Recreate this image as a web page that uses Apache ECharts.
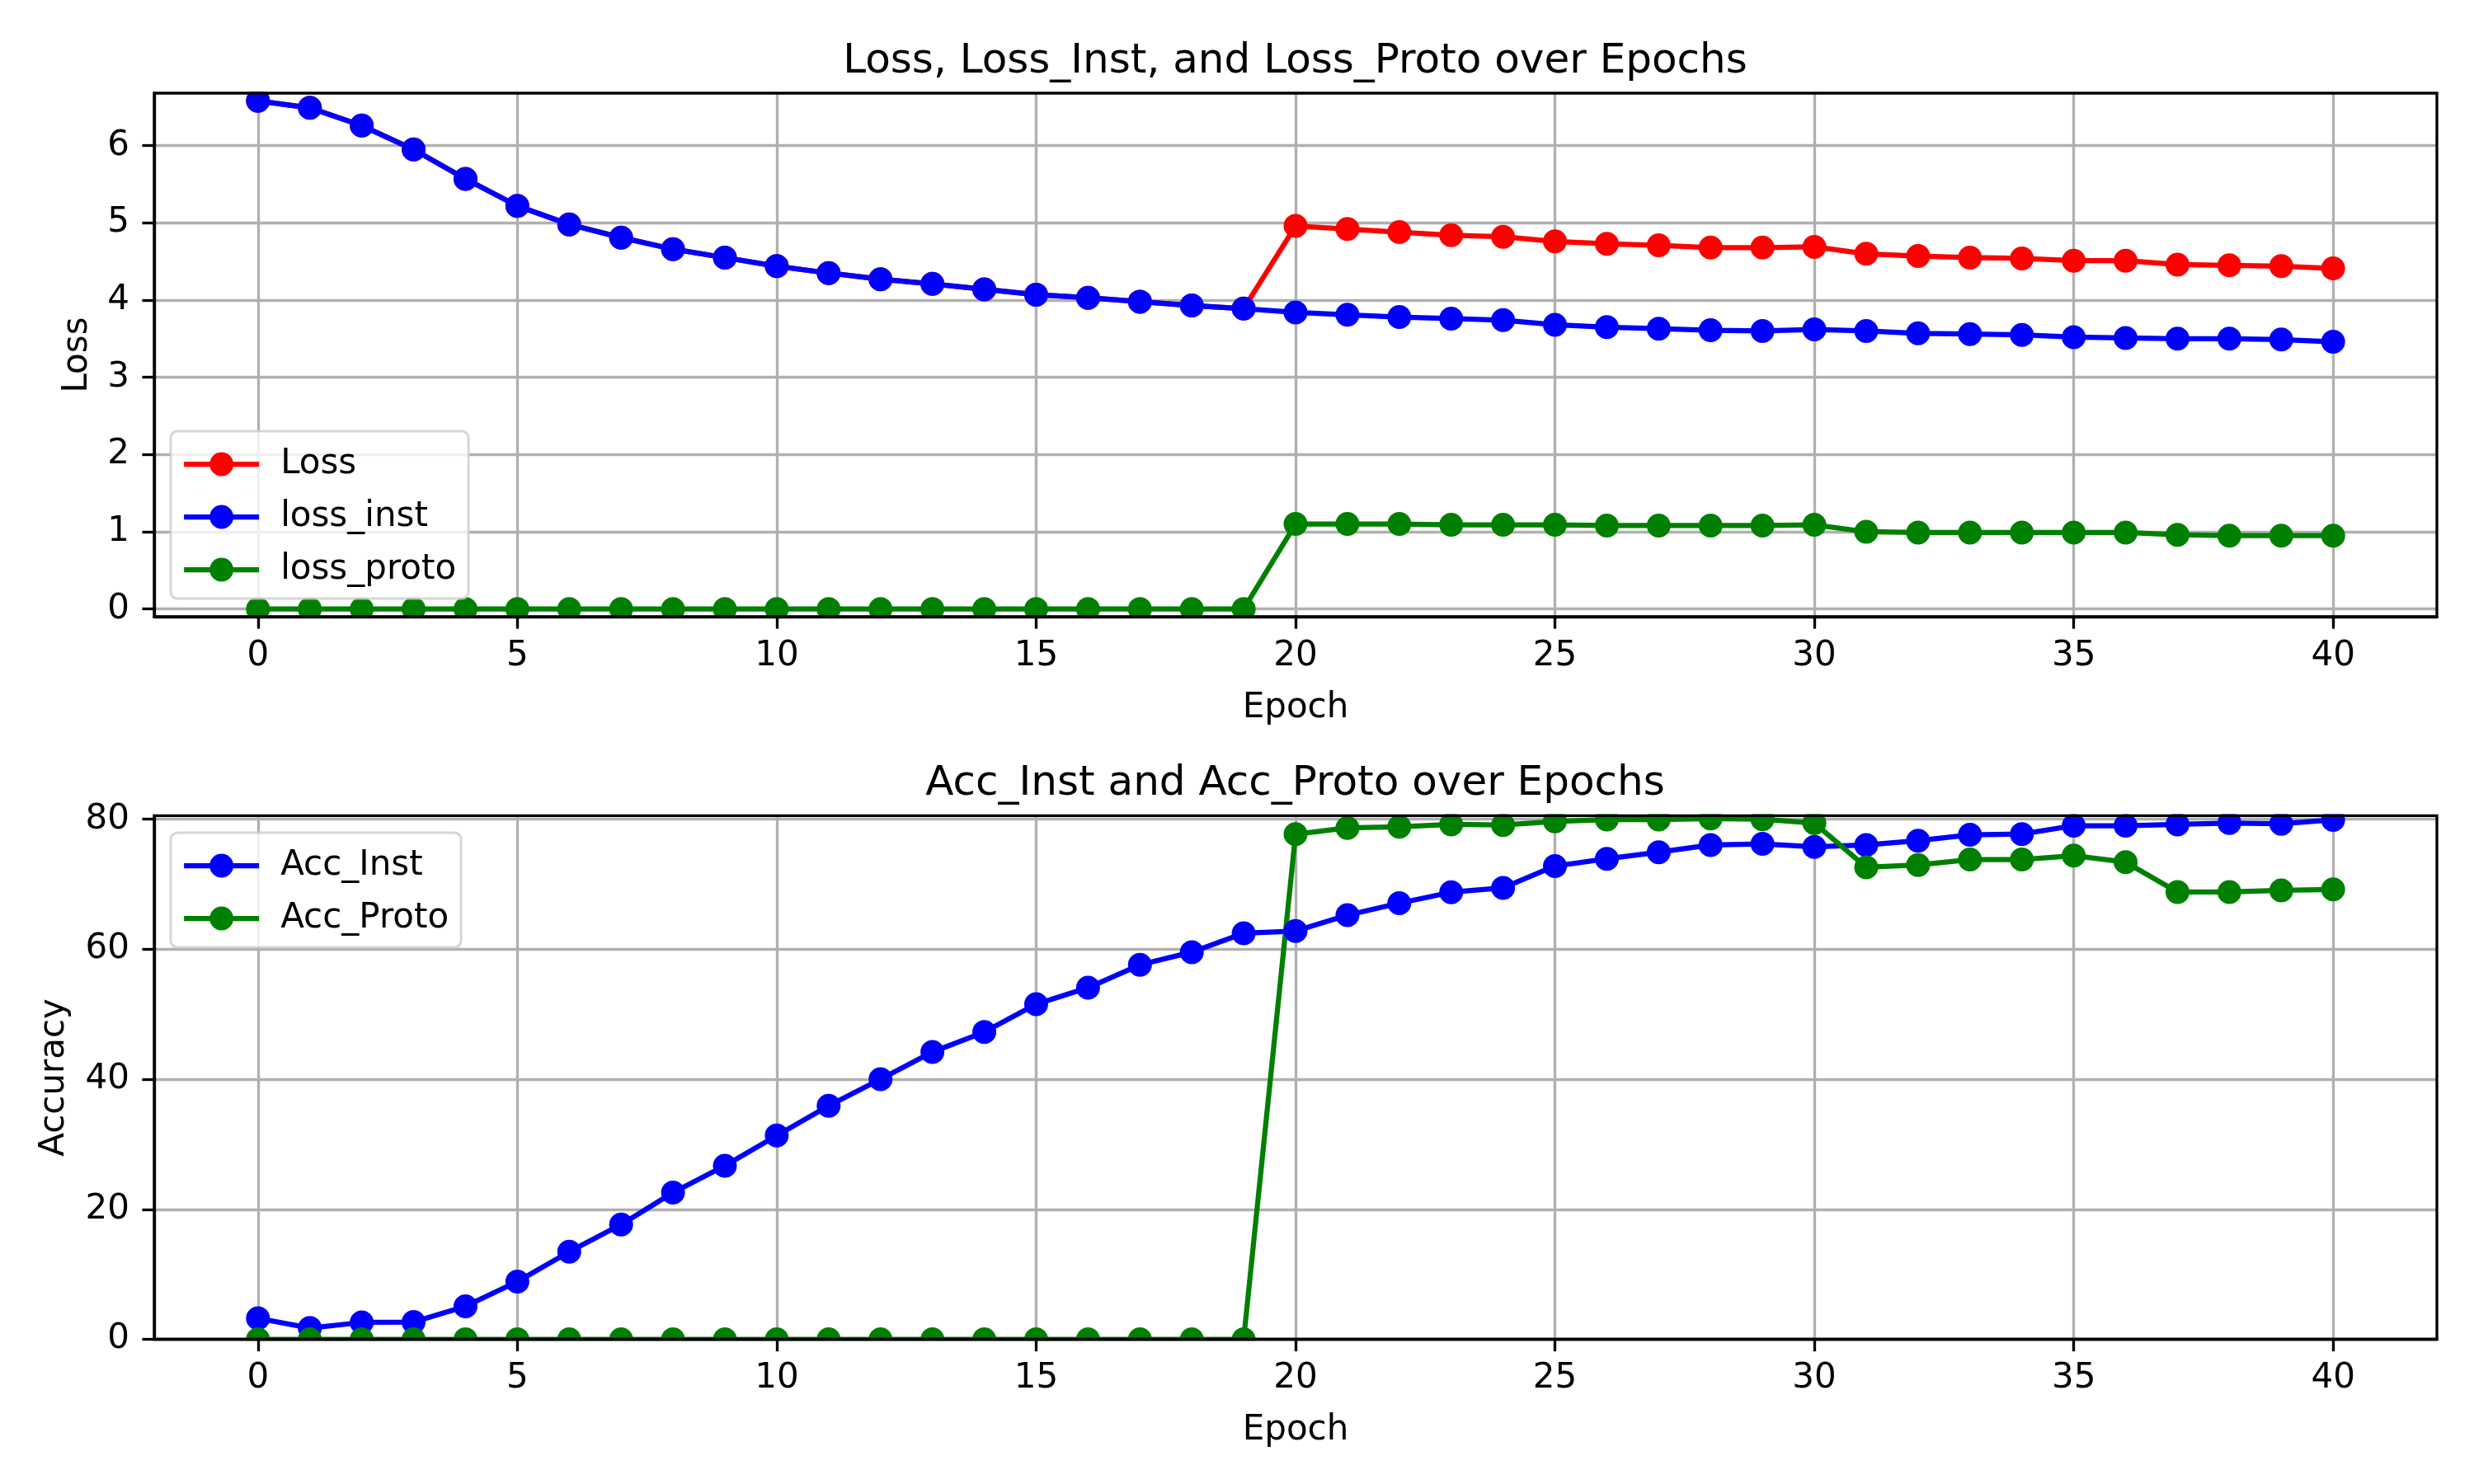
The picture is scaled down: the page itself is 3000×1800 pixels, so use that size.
<!DOCTYPE html>
<html>
<head>
<meta charset="utf-8">
<script src="https://cdn.jsdelivr.net/npm/echarts@6/dist/echarts.min.js"></script>
<style>html,body{margin:0;padding:0;background:#fff}#c{width:3000px;height:1800px}</style>
</head>
<body>
<div id="c"></div>
<script>
// ---- data ----
const epochs = [0,1,2,3,4,5,6,7,8,9,10,11,12,13,14,15,16,17,18,19,20,21,22,23,24,25,26,27,28,29,30,31,32,33,34,35,36,37,38,39,40];
const loss = [6.58,6.49,6.26,5.95,5.57,5.22,4.98,4.81,4.66,4.55,4.44,4.35,4.27,4.21,4.14,4.07,4.03,3.98,3.93,3.89,
  4.96,4.92,4.88,4.84,4.82,4.76,4.73,4.71,4.68,4.68,4.69,4.60,4.57,4.55,4.54,4.51,4.51,4.46,4.45,4.44,4.41];
const lossInst = [6.58,6.49,6.26,5.95,5.57,5.22,4.98,4.81,4.66,4.55,4.44,4.35,4.27,4.21,4.14,4.07,4.03,3.98,3.93,3.89,
  3.84,3.81,3.78,3.76,3.74,3.68,3.65,3.63,3.61,3.60,3.62,3.60,3.57,3.56,3.55,3.52,3.51,3.50,3.50,3.49,3.46];
const lossProto = [0,0,0,0,0,0,0,0,0,0,0,0,0,0,0,0,0,0,0,0,
  1.10,1.10,1.10,1.09,1.09,1.09,1.08,1.08,1.08,1.08,1.09,1.00,0.99,0.99,0.99,0.99,0.99,0.96,0.95,0.95,0.95];
const accInst = [3.24,1.73,2.60,2.65,5.08,8.88,13.46,17.65,22.57,26.70,31.34,35.92,40.00,44.19,47.26,51.56,54.08,57.60,59.55,62.46,
  62.80,65.25,67.09,68.77,69.44,72.79,73.91,74.92,76.03,76.20,75.75,76.03,76.70,77.60,77.71,79.00,79.00,79.20,79.40,79.30,79.90];
const accProto = [0,0,0,0,0,0,0,0,0,0,0,0,0,0,0,0,0,0,0,0,
  77.70,78.66,78.83,79.20,79.10,79.66,79.94,79.94,80.10,80.00,79.40,72.60,72.96,73.80,73.80,74.40,73.40,68.80,68.80,69.05,69.20];
const xTicks = [0,5,10,15,20,25,30,35,40];
const lossTicks = [0,1,2,3,4,5,6];
const accTicks = [0,20,40,60,80];

const FONT = 'DejaVu Sans';
const LW = 3.33;
const chart = echarts.init(document.getElementById('c'));

function pairs(ys){ return epochs.map((e,i)=>[e, ys[i]]); }

const grids = [
  {left:187, right:45, top:113, height:635},
  {left:187, right:45, top:989.3, height:635.2}
];

function mainX(gi){
  return {type:'value', gridIndex:gi, min:-2, max:42, position:'bottom', z:20,
    axisLine:{show:true, onZero:false, lineStyle:{color:'#000', width:LW}},
    axisTick:{show:true, length:14.6, lineStyle:{color:'#000', width:LW}, customValues:xTicks},
    axisLabel:{show:true, customValues:xTicks, fontSize:42, color:'#000', fontFamily:FONT, margin:27},
    splitLine:{show:false},
    name:'Epoch', nameLocation:'middle', nameGap:90,
    nameTextStyle:{fontSize:42, color:'#000', fontFamily:FONT}};
}
function gridX(gi){
  return {type:'value', gridIndex:gi, min:-2, max:42, position:'bottom', z:0,
    axisLine:{show:false}, axisLabel:{show:false},
    axisTick:{show:false, customValues:xTicks},
    splitLine:{show:true, lineStyle:{color:'#b0b0b0', width:LW}}};
}
function mainY(gi, mn, mx, ticks, name, gap){
  return {type:'value', gridIndex:gi, min:mn, max:mx, position:'left', z:20,
    axisLine:{show:true, onZero:false, lineStyle:{color:'#000', width:LW}},
    axisTick:{show:true, length:14.6, lineStyle:{color:'#000', width:LW}, customValues:ticks},
    axisLabel:{show:true, customValues:ticks, fontSize:42, color:'#000', fontFamily:FONT, margin:30},
    splitLine:{show:false},
    name:name, nameLocation:'middle', nameGap:gap,
    nameTextStyle:{fontSize:42, color:'#000', fontFamily:FONT}};
}
function gridY(gi, mn, mx, ticks){
  return {type:'value', gridIndex:gi, min:mn, max:mx, position:'left', z:0,
    axisLine:{show:false}, axisLabel:{show:false},
    axisTick:{show:false, customValues:ticks},
    splitLine:{show:true, lineStyle:{color:'#b0b0b0', width:LW}}};
}

function lineSeries(name, color, xi, yi, ys){
  return {name:name, type:'line', xAxisIndex:xi, yAxisIndex:yi, data:pairs(ys),
    symbol:'circle', symbolSize:29, showSymbol:true, clip:false,
    lineStyle:{color:color, width:6.25}, itemStyle:{color:color},
    emphasis:{disabled:true}, animation:false};
}

const legendBase = {
  orient:'vertical', itemWidth:91, itemHeight:36, itemGap:22,
  backgroundColor:'rgba(255,255,255,0.8)', borderColor:'rgba(204,204,204,0.8)', borderWidth:3, borderRadius:8,
  padding:[19,15,14,13],
  lineStyle:{width:6.25},
  textStyle:{fontSize:42, color:'#000', fontFamily:FONT, padding:[0,0,0,21], lineHeight:42},
  selectedMode:false
};

const option = {
  animation:false,
  backgroundColor:'#fff',
  grid: grids.map(g=>Object.assign({show:true, z:20, borderColor:'#000', borderWidth:LW, backgroundColor:'transparent'}, g)),
  xAxis:[mainX(0), gridX(0), mainX(1), gridX(1)],
  yAxis:[mainY(0,-0.1,6.68,lossTicks,'Loss',72), gridY(0,-0.1,6.68,lossTicks),
         mainY(1,0,80.55,accTicks,'Accuracy',100), gridY(1,0,80.55,accTicks)],
  legend:[
    Object.assign({}, legendBase, {left:207, top:523, data:['Loss','loss_inst','loss_proto']}),
    Object.assign({}, legendBase, {left:207, top:1010, data:['Acc_Inst','Acc_Proto']})
  ],
  series:[
    lineSeries('Loss','#ff0000',0,0,loss),
    lineSeries('loss_inst','#0000ff',0,0,lossInst),
    lineSeries('loss_proto','#008000',0,0,lossProto),
    lineSeries('Acc_Inst','#0000ff',2,2,accInst),
    lineSeries('Acc_Proto','#008000',2,2,accProto)
  ],
  graphic:[
    {type:'rect', z:10, silent:true, shape:{x:0, y:97, width:3000, height:14.3}, style:{fill:'#fff'}},
    {type:'rect', z:10, silent:true, shape:{x:0, y:749.7, width:3000, height:16}, style:{fill:'#fff'}},
    {type:'rect', z:10, silent:true, shape:{x:0, y:973, width:3000, height:14.6}, style:{fill:'#fff'}},
    {type:'rect', z:10, silent:true, shape:{x:0, y:1626.2, width:3000, height:16}, style:{fill:'#fff'}},
    {type:'text', z:30, x:1570.5, y:75, style:{text:'Loss, Loss_Inst, and Loss_Proto over Epochs', fontSize:50, fontFamily:FONT, fill:'#000', align:'center', verticalAlign:'middle'}},
    {type:'text', z:30, x:1570.5, y:951, style:{text:'Acc_Inst and Acc_Proto over Epochs', fontSize:50, fontFamily:FONT, fill:'#000', align:'center', verticalAlign:'middle'}}
  ]
};
chart.setOption(option);
</script>
</body>
</html>
